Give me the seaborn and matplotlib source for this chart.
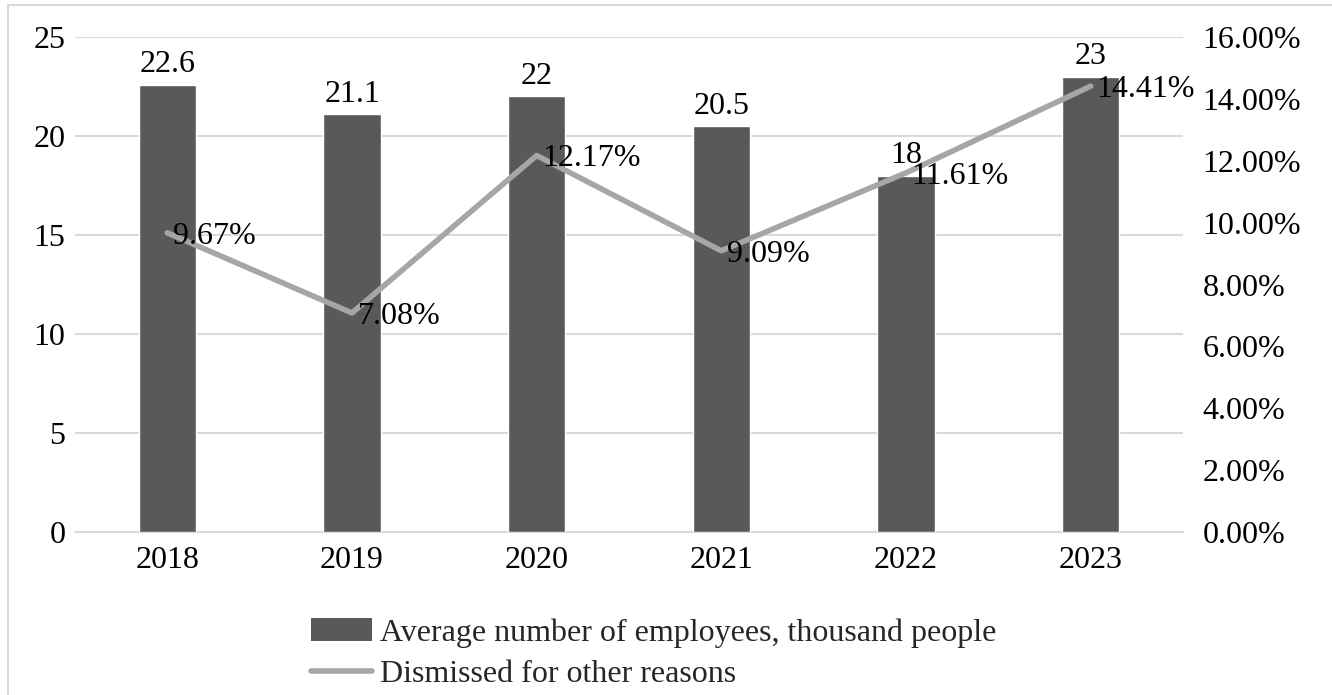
import numpy as np
import pandas as pd
import matplotlib
matplotlib.use("Agg")
import matplotlib.pyplot as plt
from matplotlib.patches import Rectangle, Patch
from matplotlib.lines import Line2D
from matplotlib.ticker import FixedLocator
import seaborn as sns

years = ["2018", "2019", "2020", "2021", "2022", "2023"]
employees = [22.6, 21.1, 22, 20.5, 18, 23]
dismissed_pct = [9.67, 7.08, 12.17, 9.09, 11.61, 14.41]
left_ticks = [0, 5, 10, 15, 20, 25]
right_ticks = [0, 2, 4, 6, 8, 10, 12, 14, 16]

bar_label_name = "Average number of employees, thousand people"
line_label_name = "Dismissed for other reasons"

BAR_COLOR = "#595959"
LINE_COLOR = "#a6a6a6"
GRID_COLOR = "#d9d9d9"

sns.set_theme(style="white")
plt.rcParams["font.family"] = ["Liberation Serif", "DejaVu Serif"]
FS = 23

df = pd.DataFrame({"year": years, "employees": employees, "pct": dismissed_pct})

fig = plt.figure(figsize=(13.32, 6.95), dpi=100)
fig.patch.set_facecolor("white")
# outer frame
fig.patches.append(Rectangle((8 / 1332, -0.02), 1.05, 1 - 5 / 695 + 0.02,
                             transform=fig.transFigure, fill=False,
                             edgecolor=GRID_COLOR, linewidth=1.5, zorder=0))

ax = fig.add_axes([75 / 1332, 1 - 532 / 695, (1183 - 75) / 1332, (532 - 37) / 695])
sns.barplot(data=df, x="year", y="employees", color=BAR_COLOR, width=0.31,
            saturation=1, ax=ax, zorder=3)
ax.set_xlim(-0.5, 5.5)
ax.set_ylim(0, 25)
ax.yaxis.set_major_locator(FixedLocator(left_ticks))
ax.set_xlabel("")
ax.set_ylabel("")
for s in ["top", "right", "left"]:
    ax.spines[s].set_visible(False)
ax.spines["bottom"].set_color(GRID_COLOR)
ax.spines["bottom"].set_linewidth(1.5)
ax.grid(axis="y", color=GRID_COLOR, linewidth=1.5, zorder=0)
ax.set_axisbelow(True)
ax.tick_params(axis="both", length=0, labelsize=FS, colors="black")
ax.tick_params(axis="x", pad=10)
ax.tick_params(axis="y", pad=7)
ax.bar_label(ax.containers[0], labels=[f"{v:g}" for v in employees],
             padding=4, fontsize=FS, color="black")

ax2 = ax.twinx()
sns.lineplot(x=np.arange(len(years)), y=dismissed_pct, color=LINE_COLOR,
             linewidth=4, ax=ax2, zorder=4)
ax2.set_ylim(0, 16)
ax2.yaxis.set_major_locator(FixedLocator(right_ticks))
ax2.set_yticklabels([f"{t:.2f}%" for t in right_ticks])
ax2.set_ylabel("")
for s in ax2.spines.values():
    s.set_visible(False)
ax2.tick_params(axis="y", length=0, labelsize=FS, pad=14, colors="black")
ax2.grid(False)
for i, v in enumerate(dismissed_pct):
    ax2.annotate(f"{v:.2f}%", (i, v), xytext=(4, 0), textcoords="offset points",
                 ha="left", va="center_baseline", fontsize=FS, color="black",
                 zorder=5)

handles = [Patch(facecolor=BAR_COLOR, edgecolor="none"),
           Line2D([0], [0], color=LINE_COLOR, linewidth=4)]
fig.legend(handles, [bar_label_name, line_label_name], loc="upper left",
           bbox_to_anchor=(311 / 1332, 1 - 618 / 695), frameon=False,
           fontsize=FS, handlelength=1.9, handleheight=0.72, handletextpad=0.25,
           labelspacing=0.38, borderpad=0, borderaxespad=0)

fig.savefig("out.png", dpi=100, facecolor="white")
